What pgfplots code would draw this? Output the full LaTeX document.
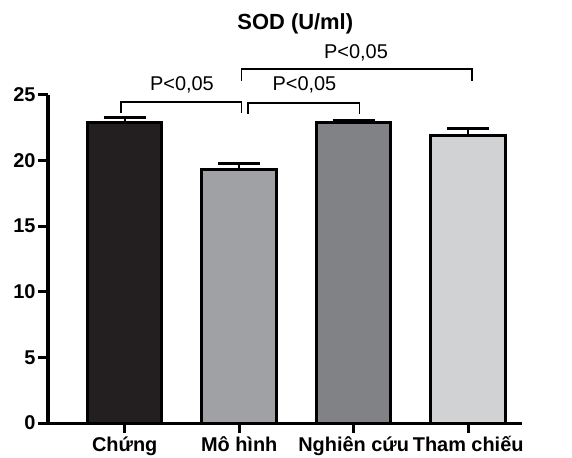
\documentclass[border=0pt]{standalone}
\usepackage{fontspec}
\setmainfont{Liberation Sans}
\usepackage{pgfplots}
\pgfplotsset{compat=1.18}
\definecolor{c1}{HTML}{231F20}
\definecolor{c2}{HTML}{A0A1A5}
\definecolor{c3}{HTML}{808285}
\definecolor{c4}{HTML}{D1D2D4}
\begin{document}
\begin{tikzpicture}
\path[use as bounding box] (-48bp,-35bp) rectangle (524bp,423bp);
\begin{axis}[
  scale only axis, width=474bp, height=328bp,
  xmin=-0.67, xmax=3.47, ymin=0, ymax=25,
  axis x line*=bottom, axis y line*=left,
  ytick={0,5,...,25}, xtick={0,1,2,3},
  xticklabels={Chứng, Mô hình, Nghiên cứu, Tham chiếu},
  tick align=outside, major tick length=10bp,
  axis line style={line width=3bp, black},
  tick style={line width=3bp, black},
  ticklabel style={font=\fontsize{20}{22}\selectfont\bfseries},
  yticklabel style={xshift=1bp},
  /pgf/number format/assume math mode=true,
  ybar, bar width=0.65, bar shift=0,
  clip=false,
  every axis plot/.append style={draw=black, line width=3bp},
  error bars/y dir=plus, error bars/y explicit,
  error bars/error mark=|,
  error bars/error bar style={line width=2.4bp, black},
  error bars/error mark options={line width=2.8bp, mark size=21bp, black},
]
\addplot[fill=c1] coordinates {(0,22.9) +- (0,0.4)};
\addplot[fill=c2] coordinates {(1,19.35) +- (0,0.45)};
\addplot[fill=c3] coordinates {(2,22.9) +- (0,0.2)};
\addplot[fill=c4] coordinates {(3,21.95) +- (0,0.5)};
\draw[line width=1.8bp] (axis cs:-0.03,23.6) |- (axis cs:1.02,24.47) -- (axis cs:1.02,23.6);
\draw[line width=1.8bp] (axis cs:1.08,23.55) |- (axis cs:2.05,24.4) -- (axis cs:2.05,23.55);
\draw[line width=1.8bp] (axis cs:1.02,26.1) |- (axis cs:3.03,27.0) -- (axis cs:3.03,26.1);
\node[font=\fontsize{20}{22}\selectfont] at (axis cs:0.5,25.75) {P<0,05};
\node[font=\fontsize{20}{22}\selectfont] at (axis cs:1.57,25.75) {P<0,05};
\node[font=\fontsize{20}{22}\selectfont] at (axis cs:2.02,28.2) {P<0,05};
\node[font=\fontsize{22}{24}\selectfont\bfseries] at (axis cs:1.49,30.4) {SOD (U/ml)};
\end{axis}
\end{tikzpicture}
\end{document}
